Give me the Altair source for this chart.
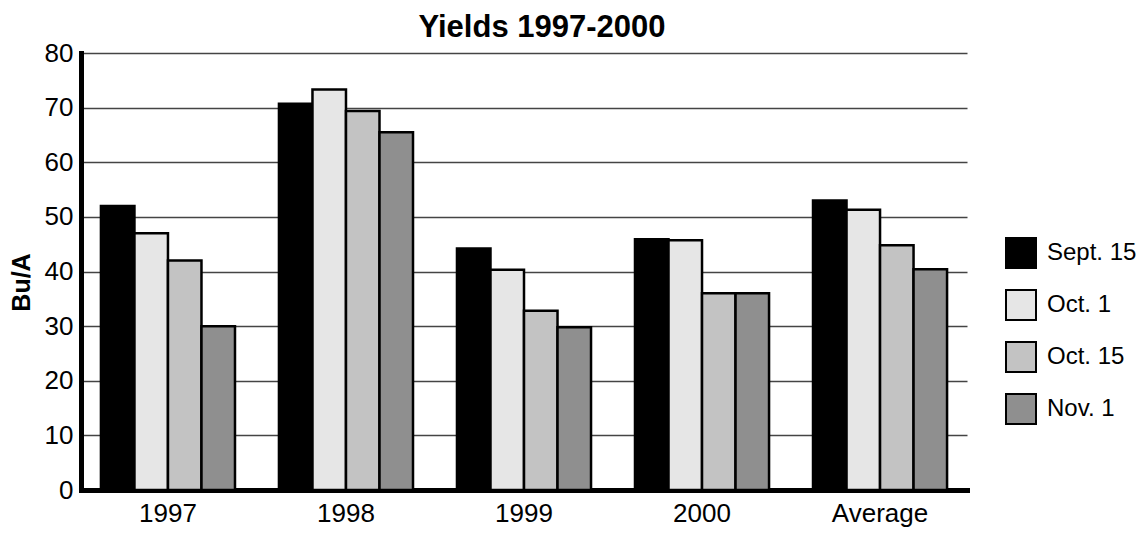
import altair as alt
import pandas as pd

groups = ["1997", "1998", "1999", "2000", "Average"]
series = ["Sept. 15", "Oct. 1", "Oct. 15", "Nov. 1"]
sept15 = [52.0, 70.7, 44.2, 45.9, 53.0]
oct1 = [47.0, 73.3, 40.3, 45.7, 51.3]
oct15 = [42.0, 69.4, 32.8, 36.0, 44.8]
nov1 = [30.0, 65.5, 29.8, 36.0, 40.4]
colors = ["#000000", "#e6e6e6", "#c3c3c3", "#8f8f8f"]
y_ticks = [0, 10, 20, 30, 40, 50, 60, 70, 80]

rows = []
for s, vals in zip(series, [sept15, oct1, oct15, nov1]):
    for g, v in zip(groups, vals):
        rows.append({"group": g, "date": s, "value": v})
df = pd.DataFrame(rows)

FONT = "Liberation Sans"

chart = alt.Chart(df).mark_bar(stroke="black", strokeWidth=2.5).encode(
    x=alt.X(
        "group:N",
        sort=groups,
        scale=alt.Scale(paddingInner=0.247, paddingOuter=0.112),
        axis=alt.Axis(
            title=None, labelAngle=0, ticks=False, tickSize=0, labelPadding=10,
            labelFontSize=26, labelFont=FONT, labelColor="black",
            domainColor="black", domainWidth=5, domainCap="square", grid=False,
        ),
    ),
    xOffset=alt.XOffset("date:N", sort=series, scale=alt.Scale(paddingInner=0, paddingOuter=0)),
    y=alt.Y(
        "value:Q",
        scale=alt.Scale(domain=[0, 80], nice=False),
        axis=alt.Axis(
            title="Bu/A", values=y_ticks, ticks=False, tickSize=0, labelPadding=8,
            labelFontSize=26, labelFont=FONT, labelColor="black",
            titleFont=FONT, titleFontSize=25, titleFontWeight="bold", titleColor="black",
            titleAngle=-90, titleX=-60, titleY=229, titleAlign="center", titleBaseline="middle",
            domainColor="black", domainWidth=5, domainCap="square",
            grid=True, gridColor="#444444", gridWidth=1.3,
        ),
    ),
    fill=alt.Fill(
        "date:N",
        sort=series,
        scale=alt.Scale(domain=series, range=colors),
        legend=alt.Legend(
            title=None, orient="none", legendX=924, legendY=184, padding=0,
            symbolType="square", symbolSize=900, symbolStrokeColor="black",
            symbolStrokeWidth=2, symbolOpacity=1, labelFontSize=24, labelFont=FONT,
            labelColor="black", labelOffset=10, rowPadding=14,
        ),
    ),
).properties(
    width=886,
    height=437,
    title=alt.TitleParams(
        "Yields 1997-2000", font=FONT, fontSize=31, fontWeight="bold",
        color="black", anchor="middle", dx=18, dy=14, offset=10,
    ),
    autosize=alt.AutoSizeParams(type="none"),
    padding={"left": 73, "top": 45, "right": 169, "bottom": 38},
).configure_view(strokeWidth=0)

chart.save("out.html", embed_options={"renderer": "svg", "actions": False})
